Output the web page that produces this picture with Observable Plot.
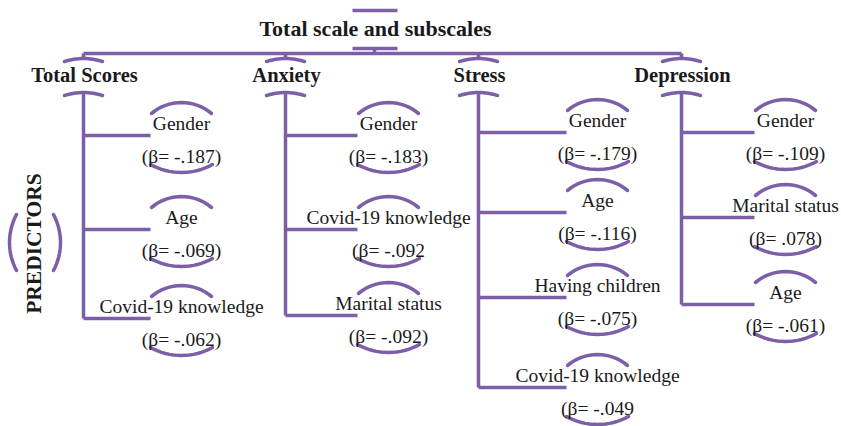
<!DOCTYPE html>
<html><head><meta charset="utf-8">
<script src="https://cdn.jsdelivr.net/npm/d3@7"></script>
<script src="https://cdn.jsdelivr.net/npm/@observablehq/plot@0.6"></script>
<style>html,body{margin:0;padding:0;background:#fff;} #chart svg{display:block}</style>
</head><body><div id="chart"></div>
<script>
// ---- data ----
const title = "Total scale and subscales";
const sideLabel = "PREDICTORS";
const subscales = ["Total Scores", "Anxiety", "Stress", "Depression"];
const predictors = [
  ["Gender", "Age", "Covid-19 knowledge"],
  ["Gender", "Covid-19 knowledge", "Marital status"],
  ["Gender", "Age", "Having children", "Covid-19 knowledge"],
  ["Gender", "Marital status", "Age"]
];
const betas = [
  [-0.187, -0.069, -0.062],
  [-0.183, -0.092, -0.092],
  [-0.179, -0.116, -0.075, -0.049],
  [-0.109, 0.078, -0.061]
];
const unclosedBeta = [[1, 1], [2, 3]]; // labels printed without ")"

// ---- layout ----
const W = 841, H = 426;
const purple = "#7d5fa8";
const ink = "#1a1a1a";
const font = "Liberation Serif";
const colX = [83, 285, 478, 681];
const labelX = [181, 388, 597, 785];
const rowY = [[123, 217, 306], [123, 217, 303], [120, 200, 285, 375], [120, 205, 292]];
const betaDy = 33, branchDy = 12;
const lineY = 53, headY = 75, capTop = 61, capBot = 95;
const titleX = 375, titleY = 28;

const fmt = b => (b < 0 ? "-" : "") + d3.format(".3f")(Math.abs(b)).replace(/^0/, "");

const rows = subscales.flatMap((s, i) => predictors[i].map((p, j) => ({
  col: i, row: j, subscale: s, predictor: p, beta: betas[i][j],
  x: labelX[i], y: rowY[i][j],
  label: "(β= " + fmt(betas[i][j]) + (unclosedBeta.some(([a, b]) => a === i && b === j) ? "" : ")")
})));

// straight segments
const segs = [];
segs.push({x1: 352, y1: 10, x2: 397, y2: 10});           // title top bar
segs.push({x1: 352, y1: 48, x2: 397, y2: 48});           // title bottom bar
segs.push({x1: 374, y1: 48, x2: 374, y2: lineY});        // stub
segs.push({x1: colX[0], y1: lineY, x2: colX[3], y2: lineY});
colX.forEach((cx, i) => {
  segs.push({x1: cx, y1: lineY, x2: cx, y2: capTop - 3});
  const last = rowY[i][rowY[i].length - 1] + branchDy;
  segs.push({x1: cx, y1: capBot - 3, x2: cx, y2: last});
});
rows.forEach(r => segs.push({x1: colX[r.col], y1: r.y + branchDy, x2: r.x - 31, y2: r.y + branchDy}));

// arcs
const arcs = [];
let aid = 0;
function arc(cx, cy, halfW, sag, dir, vertical = false) {
  const r = (halfW * halfW + sag * sag) / (2 * sag);
  const a = Math.asin(halfW / r);
  const id = aid++;
  for (let k = 0; k <= 16; k++) {
    const t = -a + 2 * a * k / 16;
    const u = r * Math.sin(t);
    const v = dir * (sag - (r - r * Math.cos(t)));
    arcs.push(vertical ? {id, x: cy + v, y: cx + u} : {id, x: cx + u, y: cy + v});
  }
}
colX.forEach(cx => { arc(cx, capTop, 19, 3, -1); arc(cx, capBot, 19, 3, -1); });
rows.forEach(r => { arc(r.x, r.y - 10, 30, 11, -1); arc(r.x, r.y + betaDy + 8, 31, 8, 1); });
arc(242, 16, 28, 7, -1, true);
arc(242, 53, 28, 7, 1, true);

const chart = Plot.plot({
  width: W, height: H, margin: 0,
  x: {domain: [0, W], range: [0, W], axis: null},
  y: {domain: [0, H], range: [0, H], axis: null},
  style: {background: "#fff", fontFamily: font},
  marks: [
    Plot.link(segs, {x1: "x1", y1: "y1", x2: "x2", y2: "y2", stroke: purple, strokeWidth: 3.5}),
    Plot.line(arcs, {x: "x", y: "y", z: "id", stroke: purple, strokeWidth: 3.5, curve: "linear"}),
    Plot.text([title], {x: () => titleX, y: () => titleY, text: d => d, fontSize: 22, fontWeight: "bold", fill: ink}),
    Plot.text(subscales, {x: (d, i) => colX[i] + 1, y: () => headY, text: d => d, fontSize: 20.5, fontWeight: "bold", fill: ink}),
    Plot.text(rows, {x: "x", y: "y", text: "predictor", fontSize: 19.5, fill: ink}),
    Plot.text(rows, {x: "x", y: d => d.y + betaDy, text: "label", fontSize: 19.5, fill: ink}),
    Plot.text([sideLabel], {x: () => 34, y: () => 243, text: d => d, rotate: -90, fontSize: 21.5, fontWeight: "bold", fill: ink})
  ]
});
document.getElementById("chart").append(chart);
</script>
</body></html>
